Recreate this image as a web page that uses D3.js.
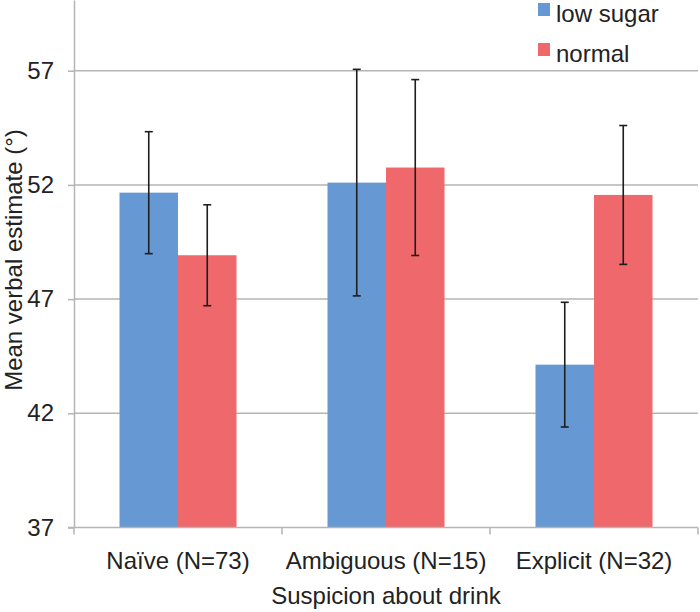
<!DOCTYPE html>
<html>
<head>
<meta charset="utf-8">
<script src="https://cdn.jsdelivr.net/npm/d3@7"></script>
<style>
  body { margin: 0; background: #fff; }
  svg { display: block; font-family: "Liberation Sans", Arial, sans-serif; }
</style>
</head>
<body>
<svg id="chart" width="700" height="612"></svg>
<script>
const categories = ["Naïve (N=73)", "Ambiguous (N=15)", "Explicit (N=32)"];
const seriesNames = ["low sugar", "normal"];
const lowSugar = [51.66, 52.1, 44.13];
const lowSugarErr = [2.67, 4.96, 2.73];
const normal = [48.92, 52.76, 51.56];
const normalErr = [2.21, 3.85, 3.04];
const yTicks = [37, 42, 47, 52, 57];
const colors = ["#6699d3", "#ef686b"];

const svg = d3.select("#chart");
const left = 74, right = 698, bottom = 527.5;
const pxPerUnit = 22.84;
const yTop = 0;
const yMax = 37 + (bottom - yTop) / pxPerUnit;

const x = d3.scaleBand().domain(categories).range([left, right]).paddingInner(0).paddingOuter(0);
const y = d3.scaleLinear().domain([37, yMax]).range([bottom, yTop]);
const x1 = d3.scaleBand().domain(seriesNames).range([0, 117]);
const barOffset = (x.bandwidth() - 117) / 2;

// gridlines
svg.append("g").selectAll("line").data(yTicks.slice(1)).join("line")
  .attr("x1", left).attr("x2", right)
  .attr("y1", d => y(d)).attr("y2", d => y(d))
  .attr("stroke", "#b5b5b5").attr("stroke-width", 1.5);

// data table
const rows = categories.map((c, i) => ({
  cat: c,
  vals: [
    { s: seriesNames[0], v: lowSugar[i], e: lowSugarErr[i], c: colors[0] },
    { s: seriesNames[1], v: normal[i], e: normalErr[i], c: colors[1] }
  ]
}));

const groups = svg.append("g").selectAll("g").data(rows).join("g")
  .attr("transform", d => `translate(${x(d.cat) + barOffset},0)`);

groups.selectAll("rect").data(d => d.vals).join("rect")
  .attr("x", d => x1(d.s)).attr("width", x1.bandwidth())
  .attr("y", d => y(d.v)).attr("height", d => bottom - y(d.v))
  .attr("fill", d => d.c);

const eb = groups.selectAll("g.eb").data(d => d.vals).join("g").attr("class", "eb")
  .attr("stroke", "#1e1e1e").attr("stroke-width", 1.6);
eb.append("line")
  .attr("x1", d => x1(d.s) + x1.bandwidth() / 2).attr("x2", d => x1(d.s) + x1.bandwidth() / 2)
  .attr("y1", d => y(d.v + d.e)).attr("y2", d => y(d.v - d.e));
eb.append("line")
  .attr("x1", d => x1(d.s) + x1.bandwidth() / 2 - 4).attr("x2", d => x1(d.s) + x1.bandwidth() / 2 + 4)
  .attr("y1", d => y(d.v + d.e)).attr("y2", d => y(d.v + d.e));
eb.append("line")
  .attr("x1", d => x1(d.s) + x1.bandwidth() / 2 - 4).attr("x2", d => x1(d.s) + x1.bandwidth() / 2 + 4)
  .attr("y1", d => y(d.v - d.e)).attr("y2", d => y(d.v - d.e));

// y axis
const yAxis = svg.append("g").attr("transform", `translate(${left},0)`)
  .call(d3.axisLeft(y).tickValues(yTicks).tickSize(6).tickSizeOuter(0).tickPadding(14));
yAxis.select(".domain").attr("stroke", "#b5b5b5").attr("stroke-width", 1.5);
yAxis.selectAll(".tick line").attr("stroke", "#b5b5b5").attr("stroke-width", 1.5);
yAxis.selectAll(".tick text").attr("font-size", 24).attr("fill", "#222")
  .attr("font-family", "Liberation Sans, Arial, sans-serif");

// x axis
const xAxis = svg.append("g").attr("transform", `translate(0,${bottom})`)
  .call(d3.axisBottom(x).tickSize(0).tickSizeOuter(0).tickPadding(24));
xAxis.select(".domain").attr("stroke", "#b5b5b5").attr("stroke-width", 1.5)
  .attr("d", `M${left - 6},0H${right}`);
xAxis.selectAll(".tick text").attr("font-size", 24).attr("fill", "#222")
  .attr("font-family", "Liberation Sans, Arial, sans-serif");
// boundary ticks between categories
const bounds = categories.map(c => x(c)).concat([right]);
xAxis.append("g").selectAll("line").data(bounds).join("line")
  .attr("x1", d => d).attr("x2", d => d).attr("y1", 0).attr("y2", 7)
  .attr("stroke", "#b5b5b5").attr("stroke-width", 1.5);

// axis titles
svg.append("text").attr("x", (left + right) / 2).attr("y", 604)
  .attr("text-anchor", "middle").attr("font-size", 24).attr("fill", "#222")
  .text("Suspicion about drink");
svg.append("text").attr("transform", "translate(22,260) rotate(-90)")
  .attr("text-anchor", "middle").attr("font-size", 24).attr("fill", "#222")
  .text("Mean verbal estimate (°)");

// legend
const legend = svg.append("g").selectAll("g").data(seriesNames).join("g")
  .attr("transform", (d, i) => `translate(538,${i * 40})`);
legend.append("rect").attr("x", 0).attr("y", 3).attr("width", 12).attr("height", 13)
  .attr("fill", (d, i) => colors[i]);
legend.append("text").attr("x", 18).attr("y", 22).attr("font-size", 24).attr("fill", "#222")
  .text(d => d);
</script>
</body>
</html>
